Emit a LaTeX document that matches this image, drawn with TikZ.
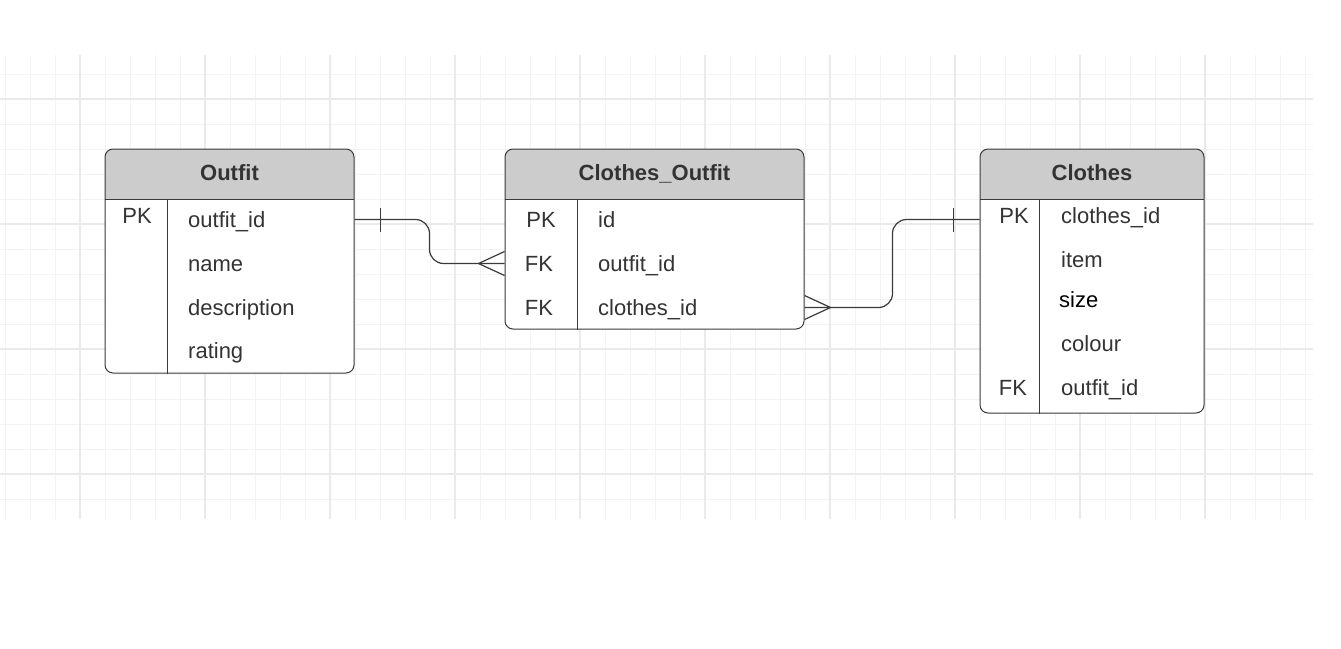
\documentclass[tikz,border=0pt]{standalone}
\usepackage{fontspec}
\setmainfont{Liberation Sans}
\definecolor{ink}{HTML}{333333}
\definecolor{edge}{HTML}{3a3a3a}
\definecolor{hdrgray}{HTML}{CCCCCC}
\definecolor{gridlo}{HTML}{F3F3F3}
\definecolor{gridhi}{HTML}{EAEAEA}

\tikzset{
  tbl/.style={draw=edge, line width=1pt, rounded corners=8pt, fill=white,
    path picture={
      \fill[hdrgray, sharp corners] (path picture bounding box.north west)
        rectangle ([yshift=-50pt]path picture bounding box.north east);
      \draw[edge, line width=1pt, sharp corners] ([yshift=-50pt]path picture bounding box.north west)
        -- ([yshift=-50pt]path picture bounding box.north east);}},
  rule/.style={draw=edge, line width=1pt},
  rel/.style={draw=edge, line width=1.2pt},
  hdr/.style={font=\fontsize{22}{26}\selectfont\bfseries, anchor=base},
  fld/.style={anchor=base west},
  key/.style={anchor=base},
}

\begin{document}
\begin{tikzpicture}[x=1pt, y=-1pt, every node/.style={font=\fontsize{22}{26}\selectfont, text=ink, inner sep=0pt}]
\useasboundingbox[fill=white] (0,0) rectangle (1341,648);

% grid
\foreach \x in {5,30,...,1305} \draw[gridlo, line width=1pt] (\x,55) -- (\x,519);
\foreach \y in {74,99,...,499} \draw[gridlo, line width=1pt] (0,\y) -- (1313,\y);
\foreach \x in {80,205,...,1205} \draw[gridhi, line width=1.1pt] (\x,55) -- (\x,519);
\foreach \y in {99,224,...,474} \draw[gridhi, line width=1.1pt] (0,\y) -- (1313,\y);

% tables
\node[tbl, minimum width=249pt, minimum height=224pt] (outfit) at (229.5,261) {};
\node[tbl, minimum width=299pt, minimum height=180pt] (cloutfit) at (654.5,239) {};
\node[tbl, minimum width=224pt, minimum height=264pt] (clothes) at (1092,281) {};

\draw[rule] ([xshift=63pt,yshift=-50pt]outfit.north west) -- ([xshift=63pt]outfit.south west);
\draw[rule] ([xshift=73pt,yshift=-50pt]cloutfit.north west) -- ([xshift=73pt]cloutfit.south west);
\draw[rule] ([xshift=60pt,yshift=-50pt]clothes.north west) -- ([xshift=60pt]clothes.south west);

% Outfit
\node[hdr] (outfit-h) at (229.5,180) {Outfit};
\node[key] (outfit-pk) at (137,223) {PK};
\node[fld] (outfit-id) at (188,227) {outfit\_id};
\node[fld] (outfit-name) at (188,271) {name};
\node[fld] (outfit-desc) at (188,315) {description};
\node[fld] (outfit-rate) at (188,358) {rating};

% Clothes_Outfit
\node[hdr] (cloutfit-h) at (654.5,180) {Clothes\_Outfit};
\node[key] (cloutfit-pk) at (541,227) {PK};
\node[key] (cloutfit-fk1) at (539,271) {FK};
\node[key] (cloutfit-fk2) at (539,315) {FK};
\node[fld] (cloutfit-id) at (598,227) {id};
\node[fld] (cloutfit-oid) at (598,271) {outfit\_id};
\node[fld] (cloutfit-cid) at (598,315) {clothes\_id};

% Clothes
\node[hdr] (clothes-h) at (1092,180) {Clothes};
\node[key] (clothes-pk) at (1014,223) {PK};
\node[key] (clothes-fk) at (1013,395) {FK};
\node[fld] (clothes-id) at (1061,223) {clothes\_id};
\node[fld] (clothes-item) at (1061,267) {item};
\node[fld, text=black] (clothes-size) at (1059,307) {size};
\node[fld] (clothes-col) at (1061,351) {colour};
\node[fld] (clothes-oid) at (1061,395) {outfit\_id};

% relations
\coordinate (o-out) at ([yshift=-71pt]outfit.north east);
\coordinate (co-in) at ([yshift=-115pt]cloutfit.north west);
\coordinate (co-out) at ([yshift=-159pt]cloutfit.north east);
\coordinate (c-in) at ([yshift=-71pt]clothes.north west);

\draw[rel, rounded corners=14pt] (o-out) -- ++(75,0) |- (co-in);
\draw[rel] ([xshift=26pt,yshift=12pt]o-out) -- ([xshift=26pt,yshift=-12pt]o-out);
\draw[rel] ([xshift=-26pt]co-in) -- ([yshift=12pt]co-in)
           ([xshift=-26pt]co-in) -- ([yshift=-12pt]co-in);

\draw[rel, rounded corners=14pt] (co-out) -- ++(88,0) |- (c-in);
\draw[rel] ([xshift=-26pt,yshift=12pt]c-in) -- ([xshift=-26pt,yshift=-12pt]c-in);
\draw[rel] ([xshift=26pt]co-out) -- ([yshift=12pt]co-out)
           ([xshift=26pt]co-out) -- ([yshift=-12pt]co-out);
\end{tikzpicture}
\end{document}
